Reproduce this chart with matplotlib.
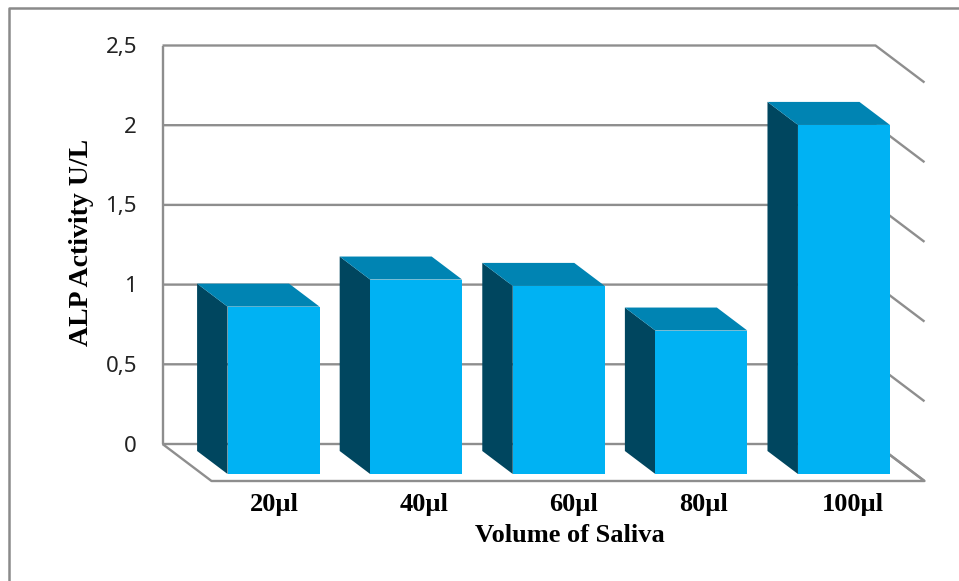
#!/usr/bin/env python3
# -*- coding: utf-8 -*-
"""ALP activity vs. saliva volume, drawn as a pseudo-3D column chart."""
import matplotlib
matplotlib.use("Agg")
import matplotlib.pyplot as plt
from matplotlib.lines import Line2D
from matplotlib.patches import Polygon

volumes = ["20µl", "40µl", "60µl", "80µl", "100µl"]
activity = [1.05, 1.22, 1.18, 0.90, 2.19]
y_ticks = [0, 0.5, 1, 1.5, 2, 2.5]
y_tick_labels = ["0", "0,5", "1", "1,5", "2", "2,5"]

W, H = 959, 581
WALL_L, WALL_R, WALL_TOP, WALL_BOT = 162.5, 875.5, 45.5, 444
DEPTH_X, DEPTH_Y = 49, 37     # floor depth on screen, px
BAR_W = 0.645
D0, D1 = 7 / 37, 30 / 37      # where the columns sit along the depth

FRONT, TOP, SIDE = "#00B2F3", "#0084B3", "#00465F"
GRID = "#8E8E8E"
# the category labels are not evenly spaced
LABEL_PX = [274, 424, 574, 704, 853]

plt.rcParams["font.family"] = ["Open Sans", "DejaVu Sans"]
fig = plt.figure(figsize=(W / 100, H / 100), dpi=100)
ax = fig.add_axes([WALL_L / W, 1 - WALL_BOT / H, (WALL_R - WALL_L) / W, (WALL_BOT - WALL_TOP) / H])
ax.set_xlim(-0.5, 4.5)
ax.set_ylim(0, 2.5)
ax.axis("off")

dx = DEPTH_X / (WALL_R - WALL_L) * 5
dy = -DEPTH_Y / (WALL_BOT - WALL_TOP) * 2.5


def proj(x, y, d):
    return x + d * dx, y + d * dy


def gline(pts, z=1):
    ax.plot(*zip(*pts), color=GRID, lw=1.7, zorder=z, clip_on=False, solid_capstyle="butt")


# back wall, side gridlines and floor
gline([(-0.5, 0), (-0.5, 2.5)])
for v in y_ticks:
    gline([(-0.5, v), (4.5, v), proj(4.5, v, 1)])
gline([(-0.5, 0), proj(-0.5, 0, 1), proj(4.5, 0, 1), (4.5, 0)])

# columns: side face, top face, front face
for i, v in enumerate(activity):
    x0, x1 = i - BAR_W / 2, i + BAR_W / 2
    ax.add_patch(Polygon([proj(x0, 0, D0), proj(x0, 0, D1), proj(x0, v, D1), proj(x0, v, D0)],
                         fc=SIDE, ec="none", zorder=3, clip_on=False))
    ax.add_patch(Polygon([proj(x0, v, D0), proj(x1, v, D0), proj(x1, v, D1), proj(x0, v, D1)],
                         fc=TOP, ec="none", zorder=3, clip_on=False))
    ax.add_patch(Polygon([proj(x0, 0, D1), proj(x1, 0, D1), proj(x1, v, D1), proj(x0, v, D1)],
                         fc=FRONT, ec="none", zorder=4, clip_on=False))

# value axis labels
for v, s in zip(y_ticks, y_tick_labels):
    ax.annotate(s, (-0.5, v), xytext=(137 - WALL_L, -2), textcoords="offset pixels",
                ha="right", va="center", fontsize=16, color="#222222",
                family=["Noto Sans", "DejaVu Sans"])

serif = dict(family=["Liberation Serif", "DejaVu Serif"], fontweight="bold", color="black")
for s, px in zip(volumes, LABEL_PX):
    fig.text(px / W, 1 - 504 / H, s, ha="center", va="center", fontsize=19, **serif)
fig.text(570 / W, 1 - 535 / H, "Volume of Saliva", ha="center", va="center", fontsize=19, **serif)
fig.text(81 / W, 1 - 242 / H, "ALP Activity U/L", ha="center", va="center", rotation=90, fontsize=20, **serif)

# outer frame: only the top and left edges are on the canvas
fig.add_artist(Line2D([8.5 / W, 8.5 / W, 1], [0, 1 - 8 / H, 1 - 8 / H], color="#8A8A8A", lw=1.8,
                      transform=fig.transFigure))

fig.savefig("out.png", dpi=100)
